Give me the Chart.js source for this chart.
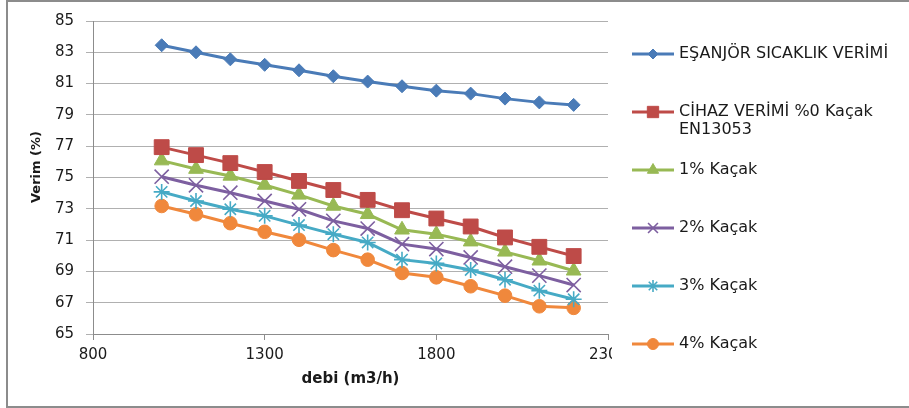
<!DOCTYPE html>
<html>
<head>
<meta charset="utf-8">
<script src="https://cdn.jsdelivr.net/npm/chart.js@4/dist/chart.umd.min.js"></script>
<style>
  html, body { margin: 0; padding: 0; background: #fff; overflow: hidden; }
  #wrap { position: relative; width: 909px; height: 408px; overflow: hidden; }
  #frame { position: absolute; left: 6px; top: 0px; width: 903px; height: 404px; border-top: 2px solid #8c8c8c; border-bottom: 2px solid #8c8c8c; border-left: 2px solid #8c8c8c; border-right: none; box-sizing: content-box; }
  #c { position: absolute; left: 0; top: 0; }
</style>
</head>
<body>
<div id="wrap">
  <div id="frame"></div>
  <canvas id="c" width="909" height="408"></canvas>
</div>
<script>
const debi = [1000, 1100, 1200, 1300, 1400, 1500, 1600, 1700, 1800, 1900, 2000, 2100, 2200];
const esanjorVerimi = [83.45, 83.0, 82.55, 82.2, 81.85, 81.47, 81.13, 80.83, 80.55, 80.36, 80.04, 79.8, 79.64];
const cihazVerimi0 = [76.94, 76.43, 75.92, 75.35, 74.78, 74.2, 73.57, 72.91, 72.38, 71.87, 71.17, 70.57, 69.98];
const kacak1 = [76.08, 75.54, 75.1, 74.52, 73.89, 73.18, 72.65, 71.66, 71.38, 70.9, 70.25, 69.68, 69.04];
const kacak2 = [75.05, 74.5, 74.03, 73.5, 72.97, 72.23, 71.74, 70.74, 70.43, 69.89, 69.3, 68.73, 68.13];
const kacak3 = [74.08, 73.5, 72.97, 72.55, 71.96, 71.38, 70.85, 69.75, 69.51, 69.09, 68.47, 67.77, 67.22];
const kacak4 = [73.18, 72.65, 72.08, 71.53, 71.02, 70.36, 69.75, 68.9, 68.62, 68.05, 67.45, 66.77, 66.67];
const seriesLabels = ["EŞANJÖR SICAKLIK VERİMİ", "CİHAZ VERİMİ %0 Kaçak EN13053", "1% Kaçak", "2% Kaçak", "3% Kaçak", "4% Kaçak"];
const xTicks = [800, 1300, 1800, 2300];
const yTicks = [65, 67, 69, 71, 73, 75, 77, 79, 81, 83, 85];
const xTitle = "debi (m3/h)";
const yTitle = "Verim (%)";

const FONT = "'DejaVu Sans', sans-serif";
const pts = arr => arr.map((v, i) => ({ x: debi[i], y: v }));

const styles = [
  { color: '#4A7BB7', marker: '#4A7BB7', style: 'rectRot', r: 6.5, lr: 5, bw: 1 },
  { color: '#BE4B48', marker: '#BE4B48', style: 'rect', r: 10.5, lr: 8, bw: 1 },
  { color: '#98B954', marker: '#98B954', style: 'triangle', r: 8.5, lr: 6.5, bw: 1 },
  { color: '#7D5FA0', marker: '#7D5FA0', style: 'crossRot', r: 10, lr: 7, bw: 1.6 },
  { color: '#46AAC5', marker: '#46AAC5', style: 'star', r: 8, lr: 6, bw: 1.6 },
  { color: '#F0883C', marker: '#F0883C', style: 'circle', r: 6.8, lr: 5.5, bw: 1 }
];
const seriesData = [esanjorVerimi, cihazVerimi0, kacak1, kacak2, kacak3, kacak4];

const datasets = seriesData.map((d, i) => ({
  label: seriesLabels[i],
  data: pts(d),
  borderColor: styles[i].color,
  backgroundColor: styles[i].marker,
  pointBackgroundColor: styles[i].marker,
  pointBorderColor: styles[i].marker,
  pointBorderWidth: styles[i].bw,
  pointStyle: styles[i].style,
  pointRadius: styles[i].r,
  pointHoverRadius: styles[i].r,
  borderWidth: 3,
  tension: 0,
  fill: false
}));

const customLegend = {
  id: 'customLegend',
  afterDraw(chart) {
    const ctx = chart.ctx;
    ctx.save();
    ctx.fillStyle = '#1a1a1a';
    ctx.font = "bold 13px " + FONT;
    ctx.textAlign = 'center';
    ctx.textBaseline = 'middle';
    ctx.translate(37, 167);
    ctx.rotate(-Math.PI / 2);
    ctx.fillText(yTitle, 0, 0);
    ctx.setTransform(1, 0, 0, 1, 0, 0);
    ctx.fillStyle = '#fff';
    ctx.fillRect(612, 340, 40, 28);
    ctx.font = "16px " + FONT;
    ctx.textBaseline = 'middle';
    ctx.textAlign = 'left';
    chart.data.datasets.forEach((ds, i) => {
      const y = 54 + i * 58;
      const st = styles[i];
      ctx.strokeStyle = st.color;
      ctx.lineWidth = 3;
      ctx.beginPath();
      ctx.moveTo(632, y);
      ctx.lineTo(674, y);
      ctx.stroke();
      const opts = { pointStyle: st.style, radius: st.lr, rotation: 0, borderWidth: st.bw };
      ctx.fillStyle = st.marker;
      ctx.strokeStyle = st.marker;
      ctx.lineWidth = st.bw;
      Chart.helpers.drawPoint(ctx, opts, 653, y);
      ctx.fillStyle = '#1a1a1a';
      const words = ds.label.split(' ');
      const lines = [];
      let cur = '';
      words.forEach(w => {
        const t = cur ? cur + ' ' + w : w;
        if (ctx.measureText(t).width > 225 && cur) { lines.push(cur); cur = w; }
        else cur = t;
      });
      lines.push(cur);
      lines.forEach((ln, k) => ctx.fillText(ln, 679, y + k * 18));
    });
    ctx.restore();
  }
};

new Chart(document.getElementById('c'), {
  type: 'line',
  data: { datasets },
  plugins: [customLegend],
  options: {
    responsive: false,
    animation: false,
    events: [],
    layout: { padding: { left: 0, right: 301, top: 19, bottom: 0 } },
    plugins: { legend: { display: false }, tooltip: { enabled: false } },
    scales: {
      x: {
        type: 'linear',
        min: 800, max: 2300,
        afterBuildTicks: s => { s.ticks = xTicks.map(v => ({ value: v })); },
        afterFit: s => { s.height = 74; },
        ticks: { color: '#1a1a1a', font: { family: FONT, size: 15 }, padding: 6, maxRotation: 0, callback: v => String(v) },
        grid: { drawOnChartArea: false, drawTicks: true, tickLength: 6, color: '#8c8c8c', lineWidth: 1 },
        border: { display: true, color: '#8c8c8c', width: 1 },
        title: { display: true, text: xTitle, color: '#1a1a1a', font: { family: FONT, size: 15, weight: 'bold' }, padding: { top: 0, bottom: 20 } }
      },
      y: {
        min: 65, max: 85,
        afterBuildTicks: s => { s.ticks = yTicks.map(v => ({ value: v })); },
        afterFit: s => { s.width = 93; },
        ticks: { color: '#1a1a1a', font: { family: FONT, size: 15 }, padding: 12 },
        grid: { drawTicks: true, tickLength: 7, color: '#b0b0b0', lineWidth: 1 },
        border: { display: true, color: '#8c8c8c', width: 1 },
        title: { display: false }
      }
    }
  }
});
</script>
</body>
</html>
